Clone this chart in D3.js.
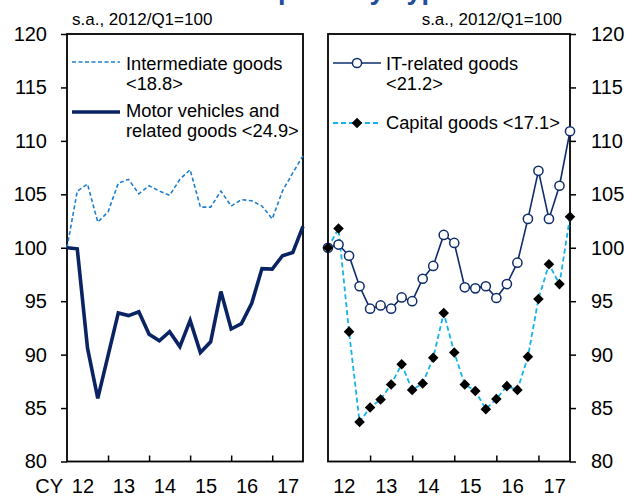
<!DOCTYPE html>
<html>
<head>
<meta charset="utf-8">
<script src="https://cdn.jsdelivr.net/npm/d3@7"></script>
<style>
  body { margin: 0; background: #fff; }
  svg { font-family: "Liberation Sans", Arial, sans-serif; }
</style>
</head>
<body>
<div id="chart"></div>
<script>
// quarterly index, 2012/Q1 = 100 (24 quarters, 2012Q1 - 2017Q4)
const years = ["12", "13", "14", "15", "16", "17"];
const yTicks = [80, 85, 90, 95, 100, 105, 110, 115, 120];

const intermediate = [100.0, 105.3, 105.95, 102.4, 103.35, 106.05, 106.4, 105.05, 105.8, 105.3, 104.9, 106.4,
                      107.3, 103.8, 103.8, 105.3, 103.9, 104.5, 104.4, 103.9, 102.7, 105.3, 107.0, 108.6];
const motorVehicles = [100.0, 99.9, 90.6, 85.9, 89.9, 93.9, 93.65, 94.0, 91.9, 91.3, 92.15, 90.75,
                       93.2, 90.2, 91.2, 95.9, 92.4, 92.9, 94.8, 98.05, 98.0, 99.25, 99.55, 102.0];
const itRelated = [100.0, 100.3, 99.25, 96.4, 94.3, 94.6, 94.3, 95.35, 95.0, 97.1, 98.3, 101.2,
                   100.45, 96.3, 96.2, 96.4, 95.3, 96.6, 98.6, 102.7, 107.2, 102.7, 105.8, 110.9];
const capitalGoods = [100.0, 101.8, 92.15, 83.7, 85.05, 85.8, 87.2, 89.1, 86.7, 87.3, 89.7, 93.9,
                      90.2, 87.2, 86.6, 84.9, 85.85, 87.05, 86.7, 89.8, 95.2, 98.45, 96.6, 102.9];

const W = 638, H = 497;
const plotTop = 34, plotBottom = 461.5;

const svg = d3.select("#chart").append("svg")
    .attr("width", W)
    .attr("height", H);

// title, cut off by the top of the picture (only descenders show)
const title = svg.append("text")
    .attr("y", -1)
    .attr("font-size", 27)
    .attr("font-weight", "bold")
    .attr("fill", "#1f4e9c")
    .text("Real Exports by Type of Goods");
const tmp = svg.append("text").attr("font-size", 27).attr("font-weight", "bold").text("Real Ex");
const prefixW = tmp.node().getComputedTextLength();
tmp.remove();
title.attr("x", 278 - prefixW);

const y = d3.scaleLinear().domain([80, 120]).range([plotBottom, plotTop]);

function panel(x0, x1, side) {
    const g = svg.append("g");
    const x = d3.scaleLinear().domain([0, 23]).range([x0, x1]);

    // x ticks (inward) at each Q1
    g.append("g")
        .attr("transform", `translate(0,${plotBottom})`)
        .call(d3.axisBottom(x).tickValues([4, 8, 12, 16, 20]).tickSize(-6).tickFormat(""))
        .call(a => a.select(".domain").remove())
        .call(a => a.selectAll("line").attr("stroke", "#000").attr("stroke-width", 1.5));

    // year labels in the middle of each year
    g.append("g")
        .attr("transform", `translate(0,${plotBottom})`)
        .call(d3.axisBottom(x).tickValues([1.5, 5.5, 9.5, 13.5, 17.5, 21.5])
            .tickSize(0).tickPadding(17).tickFormat((d, i) => years[i]))
        .call(a => a.select(".domain").remove())
        .call(a => a.selectAll("text").attr("font-size", 20).attr("fill", "#000")
            .attr("font-family", "Liberation Sans, Arial, sans-serif"));

    // y axis
    const yAxis = side === "left"
        ? d3.axisLeft(y).tickValues(yTicks).tickSize(6).tickPadding(14)
        : d3.axisRight(y).tickValues(yTicks).tickSize(6).tickPadding(15);
    g.append("g")
        .attr("transform", `translate(${side === "left" ? x0 : x1},0)`)
        .call(yAxis)
        .call(a => a.select(".domain").remove())
        .call(a => a.selectAll("line").attr("stroke", "#000").attr("stroke-width", 1.5))
        .call(a => a.selectAll("text").attr("font-size", 20).attr("fill", "#000")
            .attr("font-family", "Liberation Sans, Arial, sans-serif"));

    // frame
    g.append("rect")
        .attr("x", x0).attr("y", plotTop)
        .attr("width", x1 - x0).attr("height", plotBottom - plotTop)
        .attr("fill", "none").attr("stroke", "#000").attr("stroke-width", 1.8);

    // subtitle
    g.append("text")
        .attr("x", side === "left" ? x0 + 5 : x1 - 8)
        .attr("y", 25)
        .attr("text-anchor", side === "left" ? "start" : "end")
        .attr("font-size", 17)
        .text("s.a., 2012/Q1=100");

    return { g, x };
}

const left = panel(67, 303, "left");
const right = panel(328, 570, "right");

// left panel lines
const lineL = d3.line().x((d, i) => left.x(i)).y(d => y(d));
left.g.append("path")
    .datum(intermediate)
    .attr("d", lineL)
    .attr("fill", "none")
    .attr("stroke", "#1f7fd0")
    .attr("stroke-width", 1.6)
    .attr("stroke-dasharray", "4,2.5");
left.g.append("path")
    .datum(motorVehicles)
    .attr("d", lineL)
    .attr("fill", "none")
    .attr("stroke", "#0a2463")
    .attr("stroke-width", 3.6)
    .attr("stroke-linejoin", "miter");

// right panel lines
const lineR = d3.line().x((d, i) => right.x(i)).y(d => y(d));
right.g.append("path")
    .datum(capitalGoods)
    .attr("d", lineR)
    .attr("fill", "none")
    .attr("stroke", "#14b4ea")
    .attr("stroke-width", 1.8)
    .attr("stroke-dasharray", "5,3");
right.g.append("path")
    .datum(itRelated)
    .attr("d", lineR)
    .attr("fill", "none")
    .attr("stroke", "#0f2d6b")
    .attr("stroke-width", 1.6);
right.g.selectAll("circle.it")
    .data(itRelated)
    .join("circle")
    .attr("class", "it")
    .attr("cx", (d, i) => right.x(i))
    .attr("cy", d => y(d))
    .attr("r", 4.6)
    .attr("fill", "#fff")
    .attr("stroke", "#0f2d6b")
    .attr("stroke-width", 1.5);
const diamond = d3.symbol().type(d3.symbolSquare).size(56);
right.g.selectAll("path.cap")
    .data(capitalGoods)
    .join("path")
    .attr("class", "cap")
    .attr("d", diamond)
    .attr("transform", (d, i) => `translate(${right.x(i)},${y(d)}) rotate(45)`)
    .attr("fill", "#000");

// "CY" label
svg.append("text")
    .attr("x", 63).attr("y", 493)
    .attr("text-anchor", "end")
    .attr("font-size", 20)
    .text("CY");

// legends
function legendText(x, yy, lines) {
    const t = svg.append("text").attr("x", x).attr("y", yy).attr("font-size", 18.3);
    lines.forEach((s, i) => t.append("tspan").attr("x", x).attr("dy", i === 0 ? 0 : 19.5).text(s));
}

svg.append("line").attr("x1", 72).attr("x2", 120).attr("y1", 62).attr("y2", 62)
    .attr("stroke", "#1f7fd0").attr("stroke-width", 1.6).attr("stroke-dasharray", "4,2.5");
legendText(126, 70, ["Intermediate goods", "<18.8>"]);

svg.append("line").attr("x1", 72).attr("x2", 120).attr("y1", 112).attr("y2", 112)
    .attr("stroke", "#0a2463").attr("stroke-width", 3.6);
legendText(126, 117, ["Motor vehicles and", "related goods <24.9>"]);

svg.append("line").attr("x1", 333).attr("x2", 381).attr("y1", 63).attr("y2", 63)
    .attr("stroke", "#0f2d6b").attr("stroke-width", 1.6);
svg.append("circle").attr("cx", 357).attr("cy", 63).attr("r", 4.6)
    .attr("fill", "#fff").attr("stroke", "#0f2d6b").attr("stroke-width", 1.5);
legendText(386, 70, ["IT-related goods", "<21.2>"]);

svg.append("line").attr("x1", 333).attr("x2", 381).attr("y1", 123).attr("y2", 123)
    .attr("stroke", "#14b4ea").attr("stroke-width", 1.8).attr("stroke-dasharray", "5,3");
svg.append("path").attr("d", diamond).attr("transform", "translate(357,123) rotate(45)").attr("fill", "#000");
legendText(386, 129, ["Capital goods <17.1>"]);
</script>
</body>
</html>
